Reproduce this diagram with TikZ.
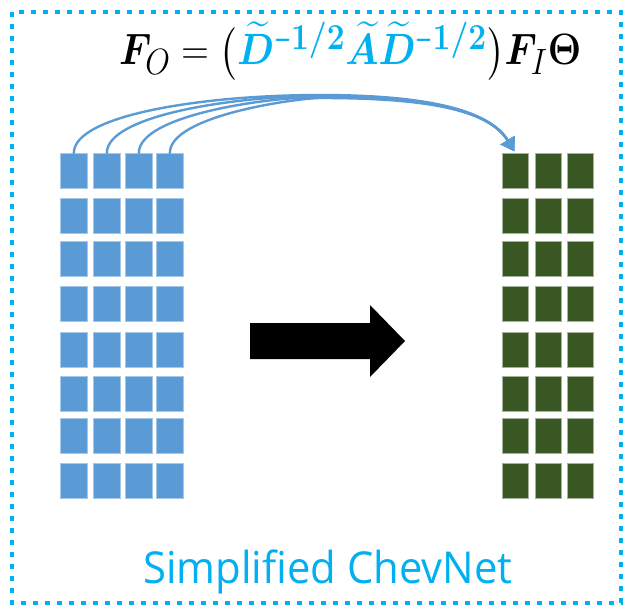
\documentclass[tikz,border=0pt]{standalone}
\usepackage{fontspec}
\usepackage{amsmath}
\usepackage{bm}
\usetikzlibrary{arrows.meta}
\newfontfamily\labelfont[FakeStretch=0.95]{Open Sans}

\definecolor{sqblue}{HTML}{5B9BD5}
\definecolor{sqgreen}{HTML}{385723}
\definecolor{eqcyan}{HTML}{00B0F0}

% bold exponent -1/2 with a short minus
\newcommand{\halfexp}{\mbox{\scalebox{0.6}[1]{$\scriptstyle\bm{-}$}}\bm{1/2}}

\tikzset{
  bsq/.style={anchor=north west, inner sep=0pt, minimum width=27pt, minimum height=35pt,
              fill=sqblue, draw=sqblue!55!white, line width=0.7pt},
  gsq/.style={anchor=north west, inner sep=0pt, minimum width=26pt, minimum height=35pt,
              fill=sqgreen, draw=sqgreen!45!white, line width=0.7pt},
  link/.style={draw=sqblue, line width=2.4pt, line cap=round,
               -{Triangle[length=13pt,width=16pt]}, shorten >=2pt},
}

\begin{document}
\begin{tikzpicture}[x=1pt,y=-1pt]
\useasboundingbox (0,0) rectangle (623,607);

% dotted outer frame
\draw[eqcyan, line width=4.5pt, dash pattern=on 5pt off 7pt] (12,12) rectangle (621,603);

% input feature matrix (8 x 4)
\foreach \r/\y in {1/153,2/198,3/241,4/286,5/332,6/376,7/418,8/463}{
  \foreach \c/\x in {1/60,2/93,3/125,4/156}{
    \node[bsq] (b\r\c) at (\x,\y) {};
  }
}

% output feature matrix (8 x 3)
\foreach \r/\y in {1/153,2/198,3/241,4/286,5/332,6/376,7/418,8/463}{
  \foreach \c/\x in {1/502,2/534.5,3/567}{
    \node[gsq] (g\r\c) at (\x,\y) {};
  }
}

% propagation from each input column to the output
\foreach \c/\k/\p in {1/203.5/95,2/236.5/96,3/268.5/97,4/299.5/98}{
  \draw[link] (b1\c.north) .. controls +(0,-38) and (\k,\p) .. (320,\p)
       .. controls (420,\p) and (488,108) .. (g11.north);
}

% block arrow between the matrices
\fill[black] (250,323) -- (370,323) -- (370,305) -- (405,341) -- (370,377) -- (370,359) -- (250,359) -- cycle;

% propagation rule
\node[anchor=base west, inner sep=0pt, font=\Huge] (eq) at (119,65)
  {\scalebox{1}[1.15]{\resizebox{462pt}{!}{$\bm{F}_{O} = \bigl({\color{eqcyan}\widetilde{\bm{D}}^{\halfexp}\widetilde{\bm{A}}\widetilde{\bm{D}}^{\halfexp}}\bigr)\bm{F}_{I}\bm{\Theta}$}}};

% caption
\node[anchor=base west, inner sep=0pt, text=eqcyan, font=\labelfont\fontsize{44}{50}\selectfont] (title) at (143,583) {Simplified ChevNet};
\end{tikzpicture}
\end{document}
